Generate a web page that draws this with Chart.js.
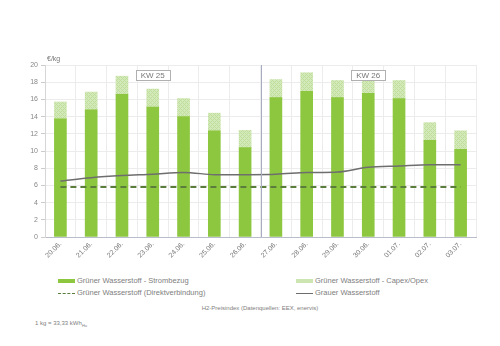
<!DOCTYPE html>
<html>
<head>
<meta charset="utf-8">
<script src="https://cdn.jsdelivr.net/npm/chart.js@4"></script>
<style>
    html, body { margin: 0; padding: 0; background: #fff; }
    body { width: 500px; height: 346px; position: relative; overflow: hidden;
           font-family: "Liberation Sans", Arial, sans-serif; color: #808080; }
    #h2Chart { position: absolute; left: 0; top: 0; }
    .legend-item { position: absolute; font-size: 7.5px; line-height: 10px; white-space: nowrap; }
    .legend-mark { display: inline-block; width: 17px; vertical-align: middle; margin-right: 2px; }
    .note { position: absolute; font-size: 6px; white-space: nowrap; }
</style>
</head>
<body>
<canvas id="h2Chart" width="500" height="266"></canvas>

<div class="legend-item" style="left:58px; top:276px;"><span class="legend-mark" style="height:4px; background:#8dc63f;"></span>Grüner Wasserstoff - Strombezug</div>
<div class="legend-item" style="left:296px; top:276px;"><span class="legend-mark" style="height:4px; background:#cde5b0;"></span>Grüner Wasserstoff - Capex/Opex</div>
<div class="legend-item" style="left:58px; top:288px;"><span class="legend-mark" style="height:0; border-top:1.5px dashed #5a7d3c;"></span>Grüner Wasserstoff (Direktverbindung)</div>
<div class="legend-item" style="left:296px; top:288px;"><span class="legend-mark" style="height:0; border-top:1.5px solid #6e6e6e;"></span>Grauer Wasserstoff</div>

<div class="note" style="left:0; width:520px; text-align:center; top:305px;">H2-Preisindex (Datenquellen: EEX, enervis)</div>
<div class="note" style="left:35px; top:320px;">1 kg = 33,33 kWh<sub style="font-size:4px;">Hu</sub></div>

<script>
// Daten (€/kg)
const labels = ['20.06.', '21.06.', '22.06.', '23.06.', '24.06.', '25.06.', '26.06.',
                '27.06.', '28.06.', '29.06.', '30.06.', '01.07.', '02.07.', '03.07.'];
const strombezug = [13.75, 14.8, 16.6, 15.1, 14.0, 12.35, 10.4, 16.2, 16.95, 16.2, 16.7, 16.1, 11.25, 10.2];
const capexOpex = [1.95, 2.05, 2.1, 2.1, 2.1, 2.05, 2.0, 2.1, 2.15, 2.0, 1.55, 2.1, 2.05, 2.15];
const direktverbindung = [5.8, 5.8, 5.8, 5.8, 5.8, 5.8, 5.8, 5.8, 5.8, 5.8, 5.8, 5.8, 5.8, 5.8];
const grauerWasserstoff = [6.5, 6.9, 7.15, 7.3, 7.5, 7.25, 7.25, 7.3, 7.5, 7.55, 8.1, 8.25, 8.4, 8.4];
const yTicks = [0, 2, 4, 6, 8, 10, 12, 14, 16, 18, 20];
const weeks = [{ label: 'KW 25', index: 3 }, { label: 'KW 26', index: 10 }];

const FONT = '"Liberation Sans", Arial, sans-serif';

// Schraffur für Capex/Opex
function makeHatch() {
    const c = document.createElement('canvas');
    c.width = 4; c.height = 4;
    const g = c.getContext('2d');
    g.fillStyle = '#d4e9b9';
    g.fillRect(0, 0, 4, 4);
    g.fillStyle = '#c0de9c';
    [[0, 0], [1, 1], [2, 2], [3, 3], [3, 1], [1, 3]].forEach(([px, py]) => g.fillRect(px, py, 1, 1));
    return g.createPattern(c, 'repeat');
}

// Wochenmarken, Trennlinie, Einheit
const annotations = {
    id: 'annotations',
    afterDatasetsDraw(chart) {
        const { ctx, chartArea, scales } = chart;
        const x = scales.x;
        ctx.save();
        // Trennlinie zwischen KW 25 und KW 26
        const sep = (x.getPixelForValue(6) + x.getPixelForValue(7)) / 2;
        ctx.strokeStyle = '#a7acc4';
        ctx.lineWidth = 1;
        ctx.beginPath();
        ctx.moveTo(Math.round(sep) + 0.5, chartArea.top);
        ctx.lineTo(Math.round(sep) + 0.5, chartArea.bottom);
        ctx.stroke();

        ctx.font = `8px ${FONT}`;
        ctx.textAlign = 'center';
        ctx.textBaseline = 'middle';
        weeks.forEach(w => {
            const cx = x.getPixelForValue(w.index);
            const cy = 75;
            ctx.fillStyle = '#fff';
            ctx.fillRect(cx - 17, cy - 5, 34, 10);
            ctx.strokeStyle = '#b0b0b0';
            ctx.strokeRect(Math.round(cx - 17) + 0.5, cy - 5 + 0.5, 34, 10);
            ctx.fillStyle = '#777';
            ctx.fillText(w.label, cx, cy + 0.5);
        });

        ctx.font = `7px ${FONT}`;
        ctx.textAlign = 'left';
        ctx.fillStyle = '#777';
        ctx.fillText('€/kg', chartArea.left + 2, chartArea.top - 6);
        ctx.restore();
    }
};

const chart = new Chart(document.getElementById('h2Chart').getContext('2d'), {
    data: {
        labels: labels,
        datasets: [
            {
                type: 'line',
                label: 'Grauer Wasserstoff',
                data: grauerWasserstoff,
                borderColor: '#6e6e6e',
                borderWidth: 1.5,
                pointRadius: 0,
                tension: 0.3,
                stack: 'grau',
                order: 0
            },
            {
                type: 'line',
                label: 'Grüner Wasserstoff (Direktverbindung)',
                data: direktverbindung,
                borderColor: '#5a7d3c',
                borderWidth: 2,
                borderDash: [6, 4],
                pointRadius: 0,
                tension: 0,
                stack: 'direkt',
                order: 0
            },
            {
                type: 'bar',
                label: 'Grüner Wasserstoff - Strombezug',
                data: strombezug,
                backgroundColor: '#8dc63f',
                barThickness: 12,
                stack: 'gruen',
                order: 1
            },
            {
                type: 'bar',
                label: 'Grüner Wasserstoff - Capex/Opex',
                data: capexOpex,
                backgroundColor: makeHatch(),
                barThickness: 12,
                stack: 'gruen',
                order: 1
            }
        ]
    },
    options: {
        responsive: false,
        animation: false,
        devicePixelRatio: 1,
        layout: { padding: { left: 0, right: 24, top: 65, bottom: 0 } },
        plugins: {
            legend: { display: false },
            tooltip: { enabled: false }
        },
        scales: {
            x: {
                stacked: true,
                afterFit: (s) => { s.height = 29; },
                grid: { color: '#ececec', drawTicks: false },
                border: { color: '#b8bccb' },
                ticks: {
                    color: '#777',
                    font: { size: 7, family: FONT },
                    minRotation: 45,
                    maxRotation: 45,
                    padding: 3
                }
            },
            y: {
                stacked: true,
                min: 0,
                max: 20,
                afterFit: (s) => { s.width = 45; },
                afterBuildTicks: (s) => { s.ticks = yTicks.map(v => ({ value: v })); },
                grid: { color: '#ececec', tickLength: 4, tickColor: '#cccccc' },
                border: { color: '#d6d6d6' },
                ticks: {
                    color: '#888',
                    font: { size: 7, family: FONT },
                    padding: 3
                }
            }
        }
    },
    plugins: [annotations]
});
</script>
</body>
</html>
